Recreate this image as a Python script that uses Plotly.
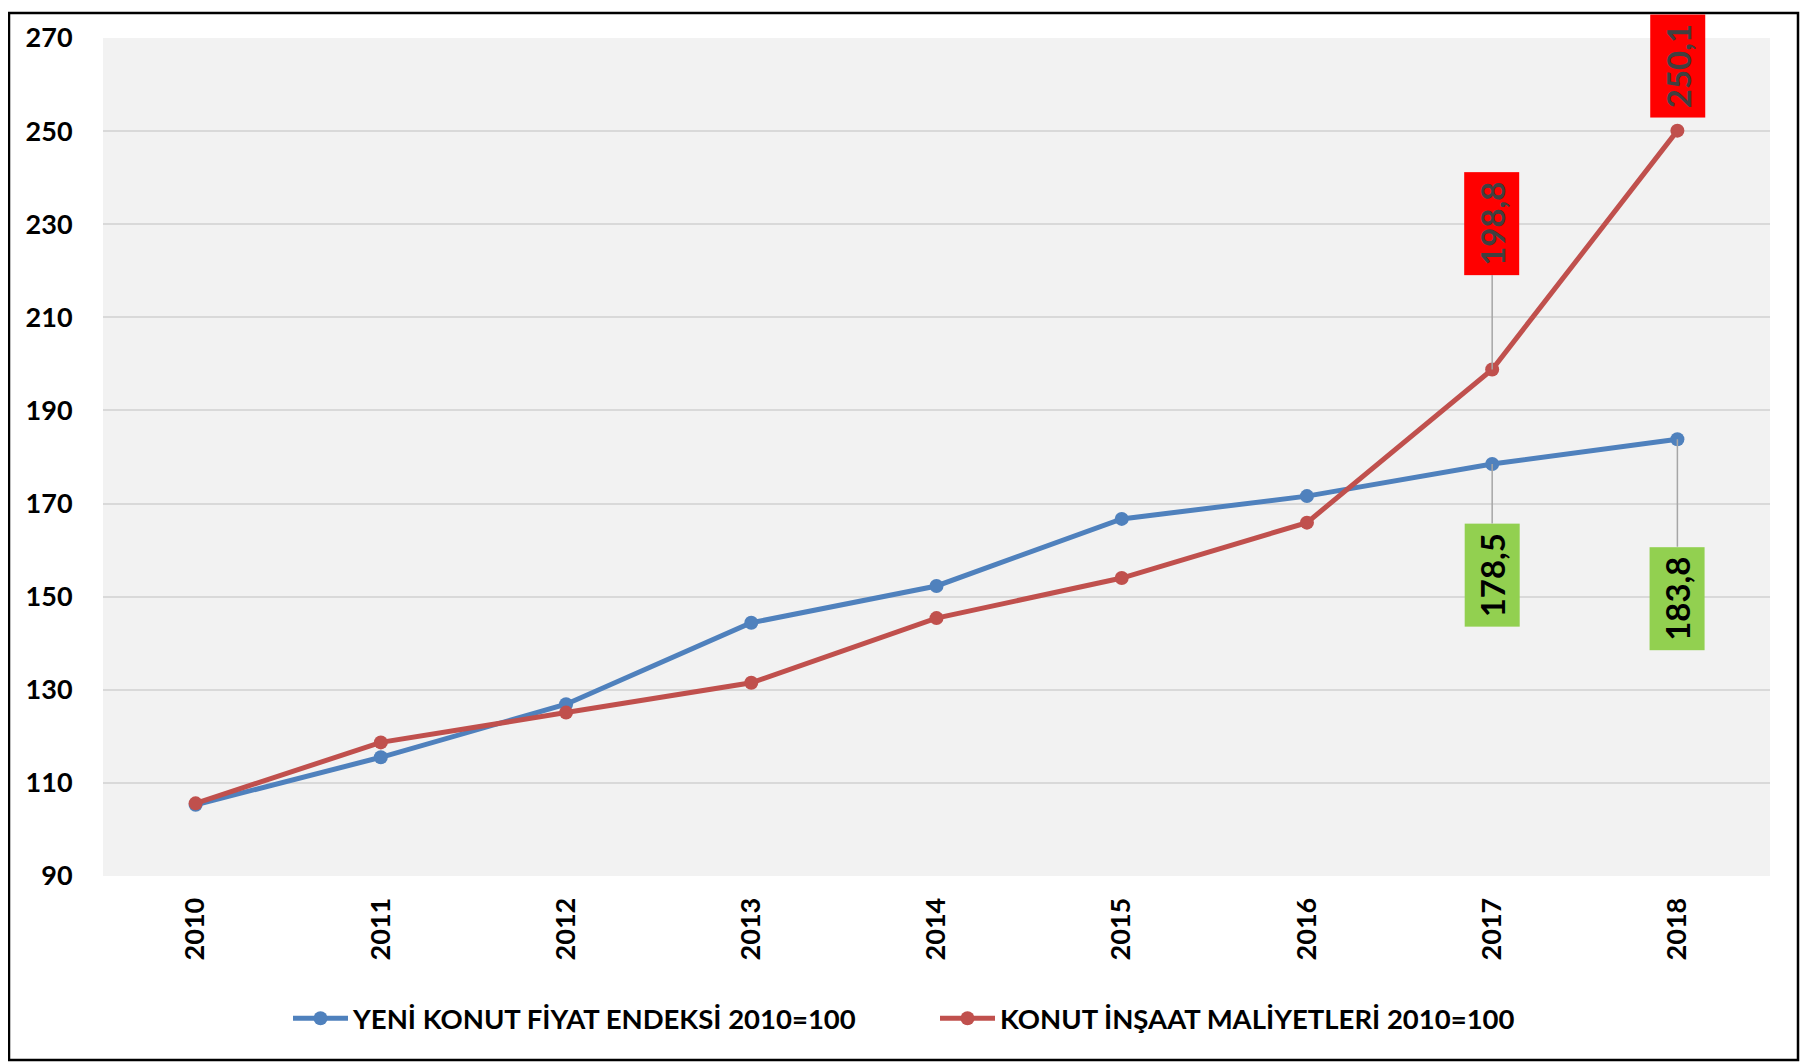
import plotly.graph_objects as go

years = ["2010", "2011", "2012", "2013", "2014", "2015", "2016", "2017", "2018"]
yeni_konut = [105.3, 115.5, 126.9, 144.4, 152.3, 166.7, 171.6, 178.5, 183.8]
insaat_maliyet = [105.6, 118.7, 125.1, 131.5, 145.4, 154.0, 165.9, 198.8, 250.1]
series_names = ["YENİ KONUT FİYAT ENDEKSİ 2010=100", "KONUT İNŞAAT MALİYETLERİ 2010=100"]
y_ticks = [90, 110, 130, 150, 170, 190, 210, 230, 250, 270]

BLUE = "#4f81bd"
RED = "#c0504d"
FONT = "Lato"

# page body has an 8px default margin, so the figure is 8px smaller
W, H = 1802, 1055
L, R, T, B = 95, 40, 26, 187
pw, ph = W - L - R, H - T - B

fig = go.Figure()
fig.add_trace(go.Scatter(x=years, y=yeni_konut, name=series_names[0], mode="lines+markers",
                         line=dict(color=BLUE, width=5), marker=dict(size=14, color=BLUE),
                         legend="legend"))
fig.add_trace(go.Scatter(x=years, y=insaat_maliyet, name=series_names[1], mode="lines+markers",
                         line=dict(color=RED, width=5), marker=dict(size=14, color=RED),
                         legend="legend2"))

def fmt(v):
    return f"{v:.1f}".replace(".", ",")

labels = [
    # (index, series, ay offset, bg, font color, arrow color)
    (7, insaat_maliyet, -146, "#ff0000", "#404040", "#a6a6a6"),
    (8, insaat_maliyet, -65, "#ff0000", "#404040", "rgba(0,0,0,0)"),
    (7, yeni_konut, 111, "#92d050", "#000000", "#a6a6a6"),
    (8, yeni_konut, 159, "#92d050", "#000000", "#a6a6a6"),
]
for idx, ser, ay, bg, fc, ac in labels:
    fig.add_annotation(x=idx, y=ser[idx], xref="x", yref="y",
                       text="<b>" + fmt(ser[idx]) + "</b>",
                       textangle=-90, showarrow=True, arrowhead=0, arrowwidth=1.5,
                       arrowcolor=ac, ax=0, ay=ay, bgcolor=bg,
                       font=dict(family=FONT, size=33, color=fc, weight="bold"),
                       width=88, height=40, borderpad=7, align="center", valign="middle")

def lx(px):
    return (px - 8 - L) / pw

def ly(py):
    return (H - B - (py - 8)) / ph

legend_common = dict(orientation="h", yanchor="middle", xanchor="left",
                     font=dict(family=FONT, size=27.5, color="black", weight="bold"),
                     itemwidth=55, bgcolor="rgba(0,0,0,0)", borderwidth=0)

fig.update_layout(
    width=W, height=H,
    margin=dict(l=L, r=R, t=T, b=B),
    paper_bgcolor="white", plot_bgcolor="#f2f2f2",
    font=dict(family=FONT, color="black"),
    showlegend=True,
    legend=dict(x=lx(288), y=ly(1019), **legend_common),
    legend2=dict(x=lx(935), y=ly(1019), **legend_common),
    xaxis=dict(type="category", range=[-0.5, 8.5], showgrid=False, zeroline=False,
               tickangle=-90, tickfont=dict(family=FONT, size=27, color="black", weight="bold"),
               ticks="outside", ticklen=10, tickcolor="rgba(0,0,0,0)", showline=False),
    yaxis=dict(range=[90, 270], tickvals=y_ticks, showgrid=True, gridcolor="#d9d9d9",
               gridwidth=2, zeroline=False, showline=False,
               tickfont=dict(family=FONT, size=27, color="black", weight="bold"),
               ticks="outside", ticklen=24, tickcolor="rgba(0,0,0,0)"),
)

# chart frame (figure coords)
fx0, fx1, fy0, fy1 = 1, 1790, 1053, 1
fig.add_shape(type="rect", xref="paper", yref="paper",
              x0=(fx0 - L) / pw, x1=(fx1 - L) / pw,
              y0=(H - B - fy0) / ph, y1=(H - B - fy1) / ph,
              line=dict(color="black", width=2.5), fillcolor="rgba(0,0,0,0)", layer="below")

fig.write_html("out.html")
